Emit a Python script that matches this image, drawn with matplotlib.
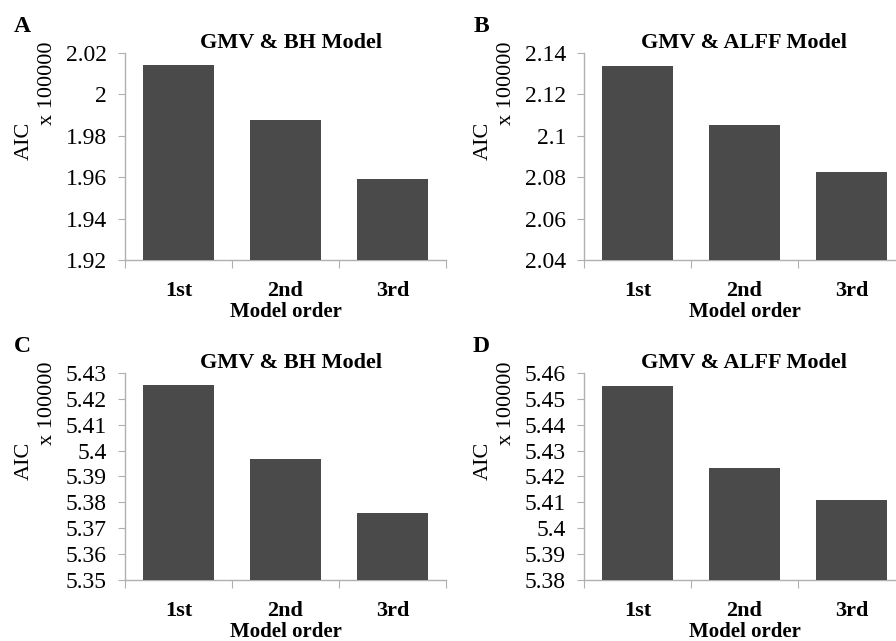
import numpy as np
import matplotlib
matplotlib.use('Agg')
import matplotlib.pyplot as plt
from matplotlib.ticker import FixedLocator, FuncFormatter

plt.rcParams['font.family'] = ['Liberation Serif', 'DejaVu Serif']

orders = ['1st', '2nd', '3rd']
panel_letters = ['A', 'B', 'C', 'D']
titles = ['GMV & BH Model', 'GMV & ALFF Model', 'GMV & BH Model', 'GMV & ALFF Model']

# AIC values (x 100000)
aic_a = [2.0142, 1.9877, 1.9592]
aic_b = [2.1335, 2.1050, 2.0823]
aic_c = [5.4254, 5.3967, 5.3758]
aic_d = [5.4551, 5.4234, 5.4110]

yticks_a = [1.92, 1.94, 1.96, 1.98, 2.00, 2.02]
yticks_b = [2.04, 2.06, 2.08, 2.10, 2.12, 2.14]
yticks_c = [5.35, 5.36, 5.37, 5.38, 5.39, 5.40, 5.41, 5.42, 5.43]
yticks_d = [5.38, 5.39, 5.40, 5.41, 5.42, 5.43, 5.44, 5.45, 5.46]

bar_color = '#4a4a4a'
spine_color = '#b0b0b0'

fig = plt.figure(figsize=(8.96, 6.41), dpi=100)

# axes positions [left, bottom, width, height] in figure fraction
positions = [
    [0.1395, 0.5944, 0.3583, 0.3229],
    [0.6518, 0.5944, 0.3583, 0.3229],
    [0.1395, 0.0952, 0.3583, 0.3229],
    [0.6518, 0.0952, 0.3583, 0.3229],
]
title_x = [0.517, 0.497, 0.517, 0.497]
all_values = [aic_a, aic_b, aic_c, aic_d]
all_ticks = [yticks_a, yticks_b, yticks_c, yticks_d]

fmt = FuncFormatter(lambda v, p: '%g' % round(v, 2))

for i in range(4):
    ax = fig.add_axes(positions[i])
    x = np.arange(len(orders))
    ax.bar(x, all_values[i], width=0.67, color=bar_color, zorder=3)
    ax.set_xlim(-0.5, len(orders) - 0.5)
    ax.set_ylim(all_ticks[i][0], all_ticks[i][-1])
    ax.set_yticks(all_ticks[i])
    ax.yaxis.set_major_formatter(fmt)

    # x ticks at category boundaries, labels at category centres
    ax.xaxis.set_major_locator(FixedLocator(np.arange(len(orders) + 1) - 0.5))
    ax.xaxis.set_major_formatter(FuncFormatter(lambda v, p: ''))
    ax.xaxis.set_minor_locator(FixedLocator(x))
    ax.set_xticklabels(orders, minor=True, fontweight='bold', fontsize=16)
    ax.tick_params(axis='x', which='major', length=6, color=spine_color, direction='out')
    ax.tick_params(axis='x', which='minor', length=0, pad=15)
    ax.tick_params(axis='y', length=5, color=spine_color, labelsize=17, pad=8)

    for side in ['top', 'right']:
        ax.spines[side].set_visible(False)
    for side in ['left', 'bottom']:
        ax.spines[side].set_color(spine_color)
        ax.spines[side].set_linewidth(1.0)

    ax.set_xlabel('Model order', fontweight='bold', fontsize=15, labelpad=1)
    ax.text(title_x[i], 1.05, titles[i], transform=ax.transAxes, ha='center',
            va='center', fontweight='bold', fontsize=16)
    ax.text(-0.3146, 0.575, 'AIC', transform=ax.transAxes, rotation=90,
            ha='center', va='center', fontsize=16)
    ax.text(-0.2414, 0.855, 'x 100000', transform=ax.transAxes, rotation=90,
            ha='center', va='center', fontsize=16)
    ax.text(-0.3195, 1.13, panel_letters[i], transform=ax.transAxes,
            ha='center', va='center', fontweight='bold', fontsize=17)

fig.savefig('out.png', dpi=100)
